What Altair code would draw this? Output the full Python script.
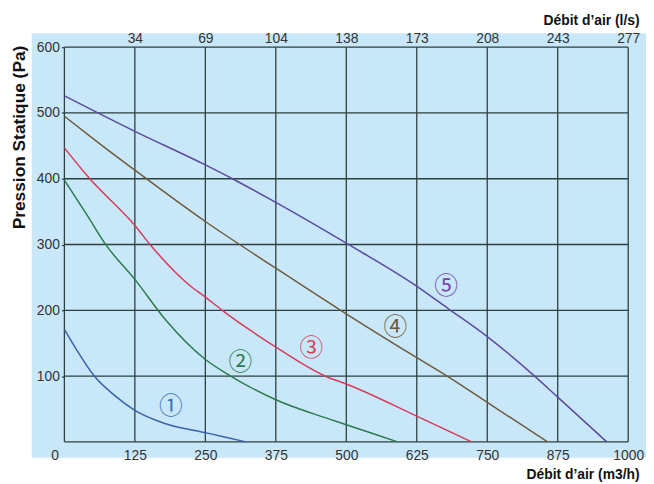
import altair as alt
import pandas as pd

# ---------------- data ----------------
curve_names = ["1", "2", "3", "4", "5"]
curve_colors = ["#3a62a8", "#2b7a4c", "#d83a58", "#6e5a3c", "#5c4aa0"]
label_colors = ["#3d6fb4", "#2a7a4a", "#d8405a", "#6e5a3c", "#7a3fa8"]

c1_flow = [0, 26, 53, 90, 125, 178, 250, 322]
c1_pres = [171, 134, 100, 70, 48, 28, 14, 0]

c2_flow = [0, 40, 74, 125, 179, 249, 295, 375, 465, 500, 591]
c2_pres = [398, 345, 299, 247, 186, 126, 100, 64, 36, 26, 0]

c3_flow = [0, 44, 125, 153, 222, 250, 280, 375, 465, 500, 625, 722]
c3_pres = [447, 401, 329, 299, 238, 220, 200, 144, 99, 88, 39, 0]

c4_flow = [0, 60, 125, 250, 375, 490, 625, 679, 750, 857]
c4_pres = [495, 455, 413, 335, 264, 200, 128, 100, 60, 0]

c5_flow = [0, 125, 250, 298, 375, 500, 626, 680, 750, 834, 875, 962]
c5_pres = [526, 472, 421, 400, 364, 302, 236, 203, 160, 100, 68, 0]

label_text = ["\u2460", "\u2461", "\u2462", "\u2463", "\u2464"]
label_flow = [189, 312, 438, 587, 677]
label_pres = [53, 120, 141, 173, 235]

x_grid = [0, 125, 250, 375, 500, 625, 750, 875, 1000]
y_grid = [0, 100, 200, 300, 400, 500, 600]
y_tick_labels = [100, 200, 300, 400, 500, 600]
top_tick_vals = [125, 250, 375, 500, 625, 750, 875, 1000]
top_tick_labels = ["34", "69", "104", "138", "173", "208", "243", "277"]

# ---------------- tables ----------------
rows = []
for name, fl, pr in zip(curve_names,
                        [c1_flow, c2_flow, c3_flow, c4_flow, c5_flow],
                        [c1_pres, c2_pres, c3_pres, c4_pres, c5_pres]):
    for f, p in zip(fl, pr):
        rows.append({"curve": name, "v": f, "p": p})
lines_df = pd.DataFrame(rows)
labels_df = pd.DataFrame({"lab": ["L" + n for n in curve_names], "txt": label_text,
                          "v": label_flow, "p": label_pres})
xg_df = pd.DataFrame({"v": x_grid})
yg_df = pd.DataFrame({"p": y_grid})

W, H = 570, 399
BG = "#c8e8f9"
GRID = "#2c3f3f"
FONT = "Liberation Sans"

xscale = alt.Scale(domain=[0, 1000], nice=False, zero=False)
yscale = alt.Scale(domain=[0, 600], nice=False)
color_scale = alt.Scale(domain=curve_names + ["L" + n for n in curve_names],
                        range=curve_colors + label_colors)

bg = alt.Chart(pd.DataFrame({"a": [0]})).mark_rect(color=BG).encode(
    x=alt.value(-33), x2=alt.value(W + 18),
    y=alt.value(-14), y2=alt.value(H + 16),
)

vgrid = alt.Chart(xg_df).mark_rule(color=GRID, strokeWidth=1.3).encode(
    x=alt.X("v:Q", scale=xscale, axis=None),
    y=alt.value(0), y2=alt.value(H),
)
hgrid = alt.Chart(yg_df).mark_rule(color=GRID, strokeWidth=1.3).encode(
    y=alt.Y("p:Q", scale=yscale,
            axis=alt.Axis(
                orient="left",
                values=y_tick_labels, grid=False, domain=False,
                ticks=True, tickSize=3, tickColor=GRID, tickWidth=1.2,
                zindex=1,
                labelFontSize=14, labelColor="#333333", labelFont=FONT, labelPadding=2,
                labelFlush=False,
                title="Pression Statique (Pa)", titleFont=FONT, titleFontSize=17.5,
                titleFontWeight="bold", titleColor="#111111",
                titleAngle=-90, titleX=-40, titleY=-2, titleAlign="right",
                titleAnchor="end", titleBaseline="alphabetic",
            )),
    x=alt.value(0), x2=alt.value(W),
)

lines = alt.Chart(lines_df).mark_line(interpolate="monotone", strokeWidth=1.5).encode(
    x=alt.X("v:Q", scale=xscale,
            axis=alt.Axis(
                orient="bottom", values=x_grid, format="d",
                grid=False, domain=False, ticks=False, zindex=1,
                labelFontSize=14, labelColor="#333333", labelFont=FONT, labelPadding=7,
                labelFlush=False,
                labelOffset={"condition": {"test": "datum.value === 0", "value": -10}, "value": 0},
                title="Débit d\u2019air (m3/h)", titleFont=FONT, titleFontSize=14,
                titleFontWeight="bold", titleColor="#111111",
                titleX=W + 11, titleY=37, titleAlign="right", titleAnchor="end",
                titleBaseline="alphabetic",
            )),
    y=alt.Y("p:Q", scale=yscale, axis=None),
    color=alt.Color("curve:N", scale=color_scale, legend=None),
    detail="curve:N",
)

label_expr = "{" + ", ".join(
    f"'{v}': '{t}'" for v, t in zip(top_tick_vals, top_tick_labels)) + "}[datum.value]"

labels = alt.Chart(labels_df).mark_text(font="Noto Sans CJK JP", fontSize=24).encode(
    x=alt.X("v:Q", scale=xscale,
            axis=alt.Axis(
                orient="top", values=top_tick_vals, labelExpr=label_expr,
                grid=False, domain=False, ticks=False, zindex=1,
                labelFontSize=14, labelColor="#333333", labelFont=FONT, labelPadding=2,
                labelFlush=False,
                title="Débit d\u2019air (l/s)", titleFont=FONT, titleFontSize=14,
                titleFontWeight="bold", titleColor="#111111",
                titleX=W + 11, titleY=-23, titleAlign="right", titleAnchor="end",
                titleBaseline="alphabetic",
            )),
    y=alt.Y("p:Q", scale=yscale, axis=None),
    text="txt:N",
    color=alt.Color("lab:N", scale=color_scale, legend=None),
)

chart = alt.layer(bg, vgrid, hgrid, lines, labels).resolve_axis(
    x="independent", y="independent"
).properties(
    width=W, height=H,
    autosize=alt.AutoSizeParams(type="none"),
    padding={"left": 57, "top": 37, "right": 18, "bottom": 40},
    background="white",
).configure_view(stroke=None)

chart.save("out.html", embed_options={"renderer": "svg", "actions": False})
